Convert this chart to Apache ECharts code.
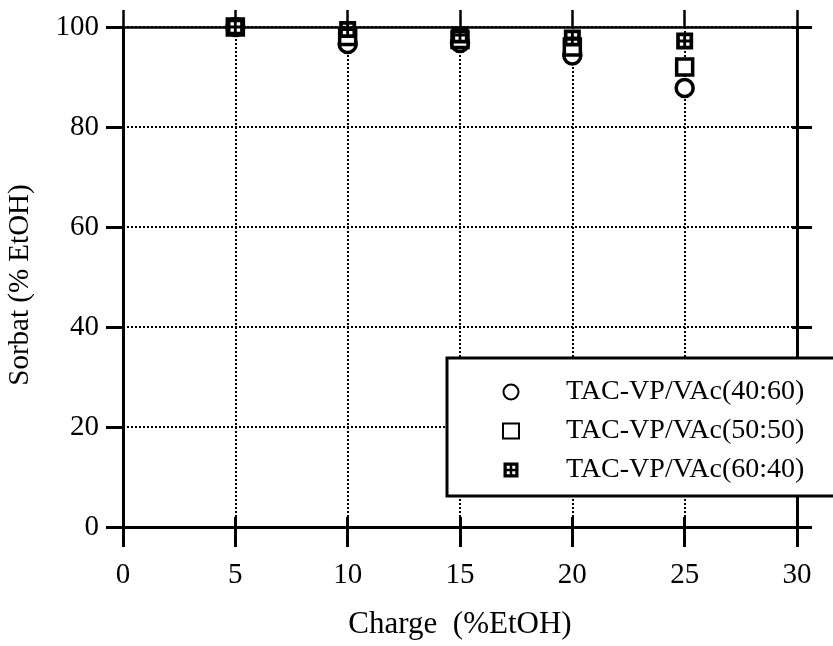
<!DOCTYPE html>
<html>
<head>
<meta charset="utf-8">
<script src="https://cdn.jsdelivr.net/npm/echarts@6/dist/echarts.min.js"></script>
<style>html,body{margin:0;padding:0;background:#fff;}#c{width:833px;height:646px;}</style>
</head>
<body>
<div id="c"></div>
<script>
const charges = [5, 10, 15, 20, 25];
const sorbat_40_60 = [100, 96.6, 96.8, 94.3, 87.8];
const sorbat_50_50 = [100, 98.1, 97.5, 96.0, 92.0];
const sorbat_60_40 = [100, 99.5, 98.4, 97.8, 97.2];
const seriesNames = ['TAC-VP/VAc(40:60)', 'TAC-VP/VAc(50:50)', 'TAC-VP/VAc(60:40)'];
const xTicks = [0, 5, 10, 15, 20, 25, 30];
const yTicks = [0, 20, 40, 60, 80, 100];

const FONT = 'Liberation Serif';
const crossSquare = 'path://M0,0 L12,0 L12,12 L0,12 Z M2.6,2.6 L2.6,5 L5,5 L5,2.6 Z M7,2.6 L7,5 L9.4,5 L9.4,2.6 Z M2.6,7 L2.6,9.4 L5,9.4 L5,7 Z M7,7 L7,9.4 L9.4,9.4 L9.4,7 Z';

function pairs(ys){ return charges.map((c,i)=>[c, ys[i]]); }

const chart = echarts.init(document.getElementById('c'), null, {renderer:'canvas'});
const xmin = xTicks[0], xmax = xTicks[xTicks.length-1];
const ymin = yTicks[0], ymax = yTicks[yTicks.length-1];
const dotted = {color:'#000', width:2, type:[2,2]};

chart.setOption({
  animation:false,
  backgroundColor:'#fff',
  grid:{left:123, right:36, top:27, bottom:119, containLabel:false, outerBoundsMode:'none'},
  legend:{
    left:447, top:358, orient:'vertical',
    backgroundColor:'#fff', borderColor:'#000', borderWidth:3,
    padding:[20, 40, 12, 55],
    itemGap:11, itemWidth:16, itemHeight:15,
    textStyle:{fontFamily:FONT, fontSize:28, color:'#000', padding:[0,0,0,42]},
    data:seriesNames
  },
  xAxis:[
    {type:'value', position:'bottom', min:xmin, max:xmax, interval:5,
     axisLine:{show:true, onZero:false, lineStyle:{color:'#000', width:3}},
     axisTick:{show:true, inside:false, length:20, lineStyle:{color:'#000', width:3}},
     axisLabel:{show:true, margin:34, fontFamily:FONT, fontSize:29, color:'#000'},
     splitLine:{show:true, lineStyle:dotted},
     name:'Charge  (%EtOH)', nameLocation:'middle', nameGap:82,
     nameTextStyle:{fontFamily:FONT, fontSize:31, color:'#000'}},
    {type:'value', position:'bottom', min:xmin, max:xmax, interval:5,
     axisLine:{show:false, onZero:false},
     axisTick:{show:true, inside:true, length:10, lineStyle:{color:'#000', width:3}},
     axisLabel:{show:false}, splitLine:{show:false}},
    {type:'value', position:'top', min:xmin, max:xmax, interval:5,
     axisLine:{show:true, onZero:false, lineStyle:{color:'#000', width:2.5}},
     axisTick:{show:true, inside:false, length:17, lineStyle:{color:'#000', width:2.5}},
     axisLabel:{show:false}, splitLine:{show:false}}
  ],
  yAxis:[
    {type:'value', position:'left', min:ymin, max:ymax, interval:20,
     axisLine:{show:true, onZero:false, lineStyle:{color:'#000', width:3}},
     axisTick:{show:true, inside:false, length:17, lineStyle:{color:'#000', width:3}},
     axisLabel:{show:true, margin:24, fontFamily:FONT, fontSize:29, color:'#000'},
     splitLine:{show:true, lineStyle:dotted},
     name:'Sorbat (% EtOH)', nameLocation:'middle', nameGap:88, nameRotate:90,
     nameTextStyle:{fontFamily:FONT, fontSize:29, color:'#000', padding:[0,16,0,0]}},
    {type:'value', position:'right', min:ymin, max:ymax, interval:20,
     axisLine:{show:true, onZero:false, lineStyle:{color:'#000', width:3}},
     axisTick:{show:true, inside:false, length:15, lineStyle:{color:'#000', width:3}},
     axisLabel:{show:false}, splitLine:{show:false}},
    {type:'value', position:'right', min:ymin, max:ymax, interval:20,
     axisLine:{show:false, onZero:false},
     axisTick:{show:true, inside:true, length:5, lineStyle:{color:'#000', width:3}},
     axisLabel:{show:false}, splitLine:{show:false}}
  ],
  series:[
    {name:seriesNames[0], type:'scatter', xAxisIndex:0, yAxisIndex:0,
     symbol:'circle', symbolSize:17,
     itemStyle:{color:'#fff', borderColor:'#000', borderWidth:3.5, opacity:1},
     data:pairs(sorbat_40_60)},
    {name:seriesNames[1], type:'scatter', xAxisIndex:0, yAxisIndex:0,
     symbol:'rect', symbolSize:16,
     itemStyle:{color:'#fff', borderColor:'#000', borderWidth:3.5, opacity:1},
     data:pairs(sorbat_50_50)},
    {name:seriesNames[2], type:'scatter', xAxisIndex:0, yAxisIndex:0,
     symbol:crossSquare, symbolSize:17,
     itemStyle:{color:'#000', borderWidth:0, opacity:1},
     data:pairs(sorbat_60_40)}
  ]
});
</script>
</body>
</html>
